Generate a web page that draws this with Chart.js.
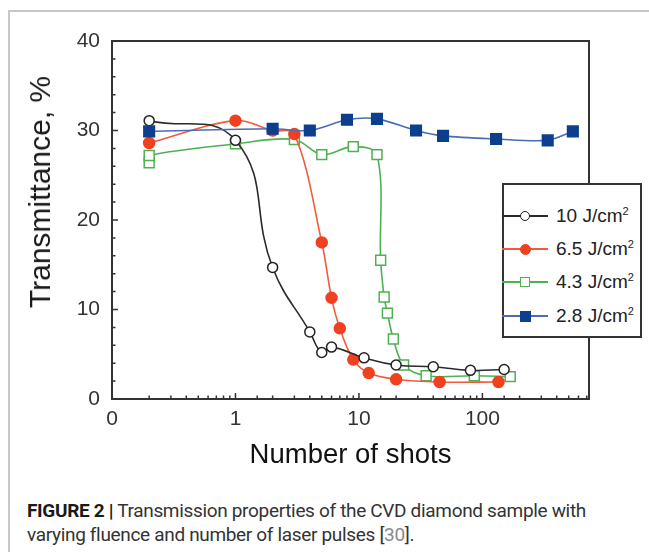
<!DOCTYPE html>
<html>
<head>
<meta charset="utf-8">
<script src="https://cdn.jsdelivr.net/npm/chart.js@4.4.0/dist/chart.umd.min.js"></script>
<style>
  html, body { margin: 0; padding: 0; background: #fff; }
  #wrap { position: relative; width: 649px; height: 552px; overflow: hidden; font-family: "Liberation Sans", Arial, sans-serif; }
  #frame { position: absolute; left: 8px; top: 10px; width: 700px; height: 600px; border-top: 2px solid #c8c8c8; border-left: 2px solid #c8c8c8; }
  #chart { position: absolute; left: 0; top: 0; }
  #ytitle { position: absolute; left: 40px; top: 192px; transform: translate(-50%, -50%) rotate(-90deg);
            font-size: 30px; line-height: 1; white-space: nowrap; color: #1a1a1a; }
  #legend { position: absolute; left: 502px; top: 183px; width: 136px; height: 151px; border: 2px solid #333; background: #fff; }
  .row { position: absolute; left: 0; width: 100%; height: 34px; }
  .row .ln { position: absolute; left: -2px; width: 46px; top: 16px; height: 2px; }
  .row .mk { position: absolute; box-sizing: border-box; }
  .row .lbl { position: absolute; left: 52px; top: 6px; font-size: 19px; line-height: 22px; color: #222; white-space: nowrap; }
  .row sup { font-size: 11px; vertical-align: 7px; line-height: 0; }
  #caption { position: absolute; left: 27px; top: 499px; font-family: "Liberation Sans Narrow", Roboto, sans-serif;
             font-size: 19px; line-height: 24px; letter-spacing: -0.33px; color: #333; white-space: nowrap; }
  #caption b { color: #1a1a1a; }
  #caption .ref { color: #8a8a8a; }
</style>
</head>
<body>
<div id="wrap">
  <div id="frame"></div>
  <canvas id="chart" width="649" height="490"></canvas>
  <div id="ytitle">Transmittance, %</div>
  <div id="legend"></div>
  <div id="caption"><b>FIGURE 2 |</b> Transmission properties of the CVD diamond sample with<br>varying fluence and number of laser pulses [<span class="ref">30</span>].</div>
</div>
<script>
// values (x = number of shots, y = transmittance %)
const shots10 = [0.2, 1, 2, 4, 5, 6, 11, 20, 40, 80, 150];
const trans10 = [31.1, 28.9, 14.7, 7.5, 5.2, 5.8, 4.6, 3.8, 3.6, 3.2, 3.3];

const shots65 = [0.2, 1, 2, 3, 5, 6, 7, 9, 12, 20, 45, 135];
const trans65 = [28.6, 31.1, 30.0, 29.6, 17.5, 11.3, 7.9, 4.4, 2.9, 2.2, 1.9, 1.9];

const shots43 = [0.2, 0.2, 1, 3, 5, 9, 14, 15, 16, 17, 19, 23, 35, 86, 168];
const trans43 = [26.4, 27.2, 28.5, 29.0, 27.3, 28.2, 27.3, 15.5, 11.4, 9.6, 6.7, 3.8, 2.6, 2.6, 2.5];

const shots28 = [0.2, 2, 4, 8, 14, 29, 48, 129, 338, 540];
const trans28 = [29.9, 30.2, 30.0, 31.2, 31.3, 30.0, 29.4, 29.05, 28.9, 29.9];

const fluences = ['10', '6.5', '4.3', '2.8'];
const xTickValues = [0.1, 1, 10, 100];
const xTickText = ['0', '1', '10', '100'];
const yTickStep = 10;

const FONT = "'Liberation Sans', Arial, sans-serif";

function pairs(xs, ys) {
  return xs.map((x, i) => ({ x: x, y: ys[i] }));
}

const styles = [
  { line: '#2a2a2a', fill: '#ffffff', edge: '#222222', shape: 'circle', r: 5, tension: 0.45 },
  { line: '#f25a3c', fill: '#f0401f', edge: '#f0401f', shape: 'circle', r: 5.5, tension: 0.35 },
  { line: '#4db152', fill: '#ffffff', edge: '#4db152', shape: 'rect', r: 7, tension: 0.35 },
  { line: '#4a6db3', fill: '#0c3f8e', edge: '#0c3f8e', shape: 'rect', r: 7.5, tension: 0.3 }
];
const series = [
  pairs(shots10, trans10),
  pairs(shots65, trans65),
  pairs(shots43, trans43),
  pairs(shots28, trans28)
];

// inward tick marks + full frame box
const frameTicks = {
  id: 'frameTicks',
  afterDatasetsDraw(chart) {
    const { ctx, chartArea: a, scales: { x, y } } = chart;
    ctx.save();
    ctx.strokeStyle = '#333';
    ctx.lineWidth = 1.5;
    ctx.beginPath();
    x.ticks.forEach(t => {
      const px = x.getPixelForValue(t.value);
      if (px <= a.left + 1 || px >= a.right - 1) return;
      const lg = Math.log10(t.value);
      const len = Math.abs(lg - Math.round(lg)) < 1e-6 ? 6 : 3.5;
      ctx.moveTo(px, a.bottom);
      ctx.lineTo(px, a.bottom - len);
    });
    y.ticks.forEach(t => {
      const py = y.getPixelForValue(t.value);
      if (py <= a.top + 1 || py >= a.bottom - 1) return;
      const len = t.value % yTickStep === 0 ? 6 : 3.5;
      ctx.moveTo(a.left, py);
      ctx.lineTo(a.left + len, py);
    });
    ctx.stroke();
    ctx.lineWidth = 2;
    ctx.strokeRect(a.left, a.top, a.right - a.left, a.bottom - a.top);
    ctx.restore();
  }
};

new Chart(document.getElementById('chart'), {
  type: 'scatter',
  data: {
    datasets: series.map((d, i) => ({
      label: fluences[i] + ' J/cm²',
      data: d,
      showLine: true,
      tension: styles[i].tension,
      borderColor: styles[i].line,
      borderWidth: 1.6,
      pointStyle: styles[i].shape,
      pointRadius: styles[i].r,
      pointBackgroundColor: styles[i].fill,
      pointBorderColor: styles[i].edge,
      pointBorderWidth: 1.5,
      order: i === 3 ? -1 : 0
    }))
  },
  options: {
    responsive: false,
    animation: false,
    layout: { padding: { top: 41, right: 60, bottom: 0, left: 0 } },
    plugins: { legend: { display: false }, tooltip: { enabled: false } },
    scales: {
      x: {
        type: 'logarithmic',
        min: 0.1,
        max: 730,
        grid: { display: false, drawTicks: false },
        border: { display: false },
        ticks: {
          autoSkip: false,
          maxRotation: 0,
          padding: 8,
          color: '#333',
          font: { family: FONT, size: 21 },
          callback: v => {
            const k = xTickValues.findIndex(t => Math.abs(t - v) / t < 1e-6);
            return k >= 0 ? xTickText[k] : '';
          }
        },
        title: {
          display: true,
          text: 'Number of shots',
          color: '#111',
          font: { family: FONT, size: 27.5 },
          padding: { top: 0, bottom: 18 }
        },
        afterFit: s => { s.height = 91; }
      },
      y: {
        min: 0,
        max: 40,
        grid: { display: false, drawTicks: false },
        border: { display: false },
        ticks: {
          stepSize: 2,
          autoSkip: false,
          padding: 12,
          color: '#333',
          font: { family: FONT, size: 21 },
          callback: v => (v % yTickStep === 0 ? String(v) : '')
        },
        afterFit: s => { s.width = 112; }
      }
    }
  },
  plugins: [frameTicks]
});

// legend (html, outside the plot box like the original)
const legend = document.getElementById('legend');
const rowCenters = [30.5, 64, 97, 131];
fluences.forEach((f, i) => {
  const st = styles[i];
  const row = document.createElement('div');
  row.className = 'row';
  row.style.top = (rowCenters[i] - 17) + 'px';
  const ln = document.createElement('div');
  ln.className = 'ln';
  ln.style.background = st.line;
  const mk = document.createElement('div');
  mk.className = 'mk';
  const size = st.shape === 'circle' ? st.r * 2 : Math.round(st.r * 1.414);
  mk.style.width = size + 'px';
  mk.style.height = size + 'px';
  mk.style.left = (21 - size / 2) + 'px';
  mk.style.top = (17 - size / 2) + 'px';
  mk.style.background = st.fill;
  mk.style.border = '1.5px solid ' + st.edge;
  if (st.shape === 'circle') mk.style.borderRadius = '50%';
  const lbl = document.createElement('div');
  lbl.className = 'lbl';
  lbl.innerHTML = f + ' J/cm<sup>2</sup>';
  row.appendChild(ln);
  row.appendChild(mk);
  row.appendChild(lbl);
  legend.appendChild(row);
});
</script>
</body>
</html>
